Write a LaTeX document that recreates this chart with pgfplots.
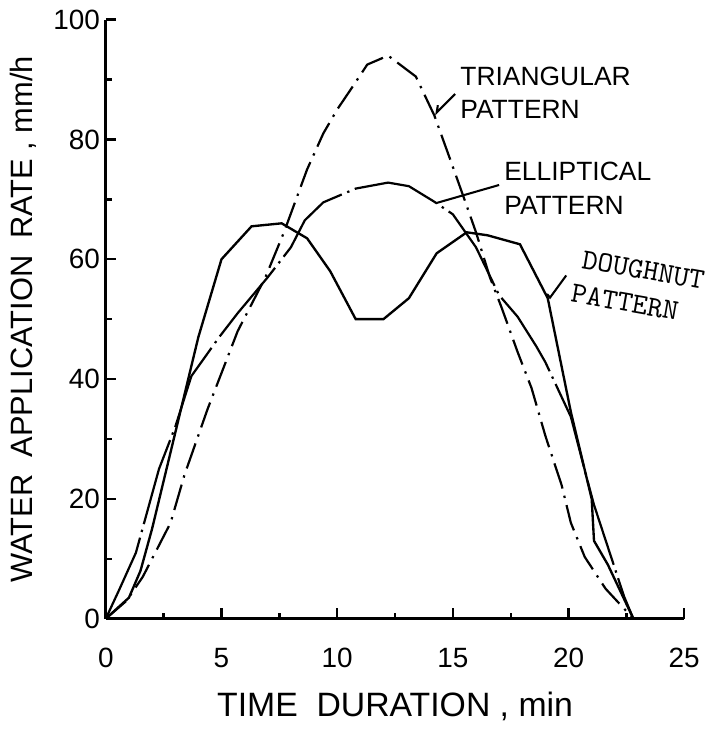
\documentclass[border=0pt]{standalone}
\usepackage{fontspec}
\setmainfont{Liberation Sans}
\usepackage{pgfplots}
\pgfplotsset{compat=1.18}
\begin{document}
\begin{tikzpicture}
\begin{axis}[
 width=197pt, height=204pt, scale only axis,
 xmin=0, xmax=25, ymin=0, ymax=100,
 axis lines=left, axis line style={-, line width=0.9pt},
 xtick={0,5,...,25}, ytick={0,20,...,100},
 minor xtick={2.5,7.5,...,22.5}, minor ytick={10,30,...,90},
 tick align=inside, major tick length=3.5pt, minor tick length=2pt,
 tick style={line width=0.8pt, black},
 /pgf/number format/assume math mode=true,
 ticklabel style={font=\fontsize{9.5}{11}\selectfont},
 xticklabel style={yshift=-6.5pt},
 yticklabel style={xshift=1.5pt},
 xlabel={TIME\ \ DURATION , min},
 ylabel={WATER\ \ APPLICATION\ \ RATE , mm/h},
 xlabel style={font=\fontsize{11.5}{12}\selectfont, yshift=-1.5pt},
 ylabel style={font=\fontsize{10.5}{12}\selectfont, yshift=-1pt},
 clip=false,
]
% Doughnut pattern
\addplot[black, line width=0.8pt] coordinates {
(0,0) (1,3.5) (1.5,8) (2,15) (3,31) (4,47) (5,60) (6.3,65.5) (7.6,66) (8.7,63.5)
(9.7,58) (10.8,50) (12,50) (13.1,53.5) (14.3,61) (15.6,64.5) (16.5,64) (17.9,62.5)
(19.1,53.5) (20.1,34.5) (21,20) (21.1,13) (21.7,9) (22.8,0)};
% Elliptical pattern
\addplot[black, line width=0.75pt, dash pattern=on 30pt off 2pt on 0.8pt off 2pt] coordinates {
(0,0) (0.6,5) (1.3,11) (2.3,25) (3,32) (3.7,40.5) (4.9,47) (5.7,51) (7,57) (8,62)
(8.6,66.5) (9.4,69.5) (10.8,71.8) (12.2,72.8) (13.1,72.2) (14.2,69.6) (15,67.5)
(16,62) (17,54) (17.8,50.4) (18.6,45.5) (19,42.8) (20.1,33.7) (20.8,23.3) (21.1,19)
(22.4,3.7) (22.8,0)};
% Triangular pattern
\addplot[black, line width=0.75pt, dash pattern=on 9pt off 2.5pt on 0.8pt off 2.5pt] coordinates {
(0,0) (0.9,3) (1.6,7) (2.8,16) (3.4,24) (4.4,35) (5.7,48) (6.9,57) (7.7,64.5)
(8.7,75) (9.4,81) (10,85) (10.7,89) (11.3,92.5) (12.2,94) (13.4,90.5) (14.2,84)
(14.9,76.5) (15.5,70) (16,64.5) (16.6,57) (17.1,52) (17.8,44.5) (18.4,38.5) (19,30.5)
(19.7,22.3) (20.1,16) (20.7,10.3) (21.6,5) (22.8,0)};
% annotations
\node[anchor=west, align=left, font=\fontsize{9}{11.5}\selectfont, inner sep=0pt] at (axis cs:15.3,87.8) {TRIANGULAR\\PATTERN};
\draw[line width=0.7pt] (axis cs:15.1,87.6) -- (axis cs:14.3,84.5) -- ++(0.4pt,2.5pt);
\node[anchor=west, align=left, font=\fontsize{9}{11.5}\selectfont, inner sep=0pt] at (axis cs:17.2,71.9) {ELLIPTICAL\\PATTERN};
\draw[line width=0.7pt] (axis cs:17.0,72.4) -- (axis cs:14.3,69.4);
\node[align=left, rotate=-10, font=\ttfamily\fontsize{10}{12}\selectfont\addfontfeatures{FakeBold=1.2}, inner sep=0pt] at (axis cs:23.0,55.4) {\,DOUGHNUT\\PATTERN};
\draw[line width=0.7pt] (axis cs:19.9,57.3) -- (axis cs:19.2,53.6) -- ++(-1pt,1.2pt);
\end{axis}
\end{tikzpicture}
\end{document}
